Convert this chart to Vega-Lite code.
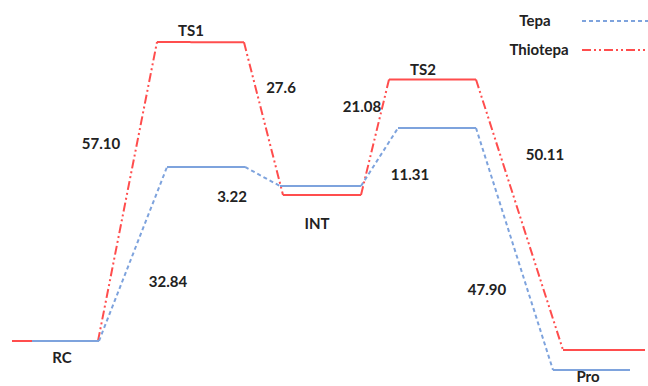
{
  "$schema": "https://vega.github.io/schema/vega-lite/v6.json",
  "width": 648,
  "height": 386,
  "autosize": {"type": "none"},
  "padding": 0,
  "background": "white",
  "config": {"view": {"stroke": null}},
  "datasets": {
    "segs": [
      {"series": "Thiotepa", "kind": "solid", "x": 1.2, "x2": 9.8, "y": 0, "y2": 0},
      {"series": "Thiotepa", "kind": "dashdot", "x": 9.8, "x2": 15.7, "y": 0, "y2": 57.06},
      {"series": "Thiotepa", "kind": "solid", "x": 15.7, "x2": 24.4, "y": 57.06, "y2": 57.0},
      {"series": "Thiotepa", "kind": "dashdot", "x": 24.4, "x2": 28.3, "y": 57.0, "y2": 27.86},
      {"series": "Thiotepa", "kind": "solid", "x": 28.3, "x2": 36.1, "y": 27.86, "y2": 27.86},
      {"series": "Thiotepa", "kind": "dashdot", "x": 36.1, "x2": 38.9, "y": 27.86, "y2": 49.9},
      {"series": "Thiotepa", "kind": "solid", "x": 38.9, "x2": 47.6, "y": 49.9, "y2": 49.9},
      {"series": "Thiotepa", "kind": "dashdot", "x": 47.6, "x2": 56.3, "y": 49.9, "y2": -1.72},
      {"series": "Thiotepa", "kind": "solid", "x": 56.3, "x2": 64.5, "y": -1.72, "y2": -1.72},
      {"series": "Tepa", "kind": "solid", "x": 3.2, "x2": 9.9, "y": 0, "y2": 0},
      {"series": "Tepa", "kind": "dash", "x": 9.9, "x2": 16.7, "y": 0, "y2": 33.21},
      {"series": "Tepa", "kind": "solid", "x": 16.7, "x2": 24.5, "y": 33.21, "y2": 33.21},
      {"series": "Tepa", "kind": "dash", "x": 24.5, "x2": 28.0, "y": 33.21, "y2": 29.58},
      {"series": "Tepa", "kind": "solid", "x": 28.0, "x2": 36.1, "y": 29.58, "y2": 29.58},
      {"series": "Tepa", "kind": "dash", "x": 36.1, "x2": 39.8, "y": 29.58, "y2": 40.65},
      {"series": "Tepa", "kind": "solid", "x": 39.8, "x2": 47.6, "y": 40.65, "y2": 40.65},
      {"series": "Tepa", "kind": "dash", "x": 47.6, "x2": 55.3, "y": 40.65, "y2": -5.53},
      {"series": "Tepa", "kind": "solid", "x": 55.3, "x2": 63.0, "y": -5.53, "y2": -5.53},
      {"series": "Tepa", "kind": "dash", "x": 58.2, "x2": 64.8, "y": 61.07, "y2": 61.07},
      {"series": "Thiotepa", "kind": "dashdot", "x": 58.2, "x2": 64.8, "y": 55.53, "y2": 55.53}
    ],
    "labels": [
      {"text": "TS1", "x": 19.1, "y": 59.16},
      {"text": "27.6", "x": 28.1, "y": 48.28},
      {"text": "57.10", "x": 10.1, "y": 37.6},
      {"text": "3.22", "x": 23.2, "y": 27.48},
      {"text": "21.08", "x": 36.2, "y": 44.66},
      {"text": "TS2", "x": 42.3, "y": 51.72},
      {"text": "11.31", "x": 41.0, "y": 31.68},
      {"text": "50.11", "x": 54.5, "y": 35.5},
      {"text": "INT", "x": 31.7, "y": 22.33},
      {"text": "32.84", "x": 16.8, "y": 11.26},
      {"text": "RC", "x": 6.2, "y": -3.24},
      {"text": "47.90", "x": 48.7, "y": 9.73},
      {"text": "Pro", "x": 58.8, "y": -6.95},
      {"text": "Tepa", "x": 53.5, "y": 61.07},
      {"text": "Thiotepa", "x": 53.9, "y": 55.53}
    ]
  },
  "layer": [
    {
      "data": {"name": "segs"},
      "mark": {"type": "rule", "strokeWidth": 2, "strokeCap": "butt"},
      "encoding": {
        "x": {"field": "x", "type": "quantitative", "scale": {"domain": [0, 64.8], "nice": false, "zero": false}, "axis": null},
        "x2": {"field": "x2"},
        "y": {"field": "y", "type": "quantitative", "scale": {"domain": [-8.588, 65.076], "nice": false, "zero": false}, "axis": null},
        "y2": {"field": "y2"},
        "color": {"field": "series", "type": "nominal", "scale": {"domain": ["Tepa", "Thiotepa"], "range": ["#7EA3DD", "#FF4D4D"]}, "legend": null},
        "strokeDash": {"field": "kind", "type": "nominal", "scale": {"domain": ["solid", "dash", "dashdot"], "range": [[1, 0], [4, 3], [9, 3, 2, 3, 2, 3]]}, "legend": null},
        "order": {"field": "series", "sort": "descending"}
      }
    },
    {
      "data": {"name": "labels"},
      "mark": {"type": "text", "font": "Lato", "fontWeight": "bold", "fontSize": 15, "color": "#222222", "align": "center", "baseline": "middle"},
      "encoding": {
        "x": {"field": "x", "type": "quantitative"},
        "y": {"field": "y", "type": "quantitative"},
        "text": {"field": "text"}
      }
    }
  ]
}
